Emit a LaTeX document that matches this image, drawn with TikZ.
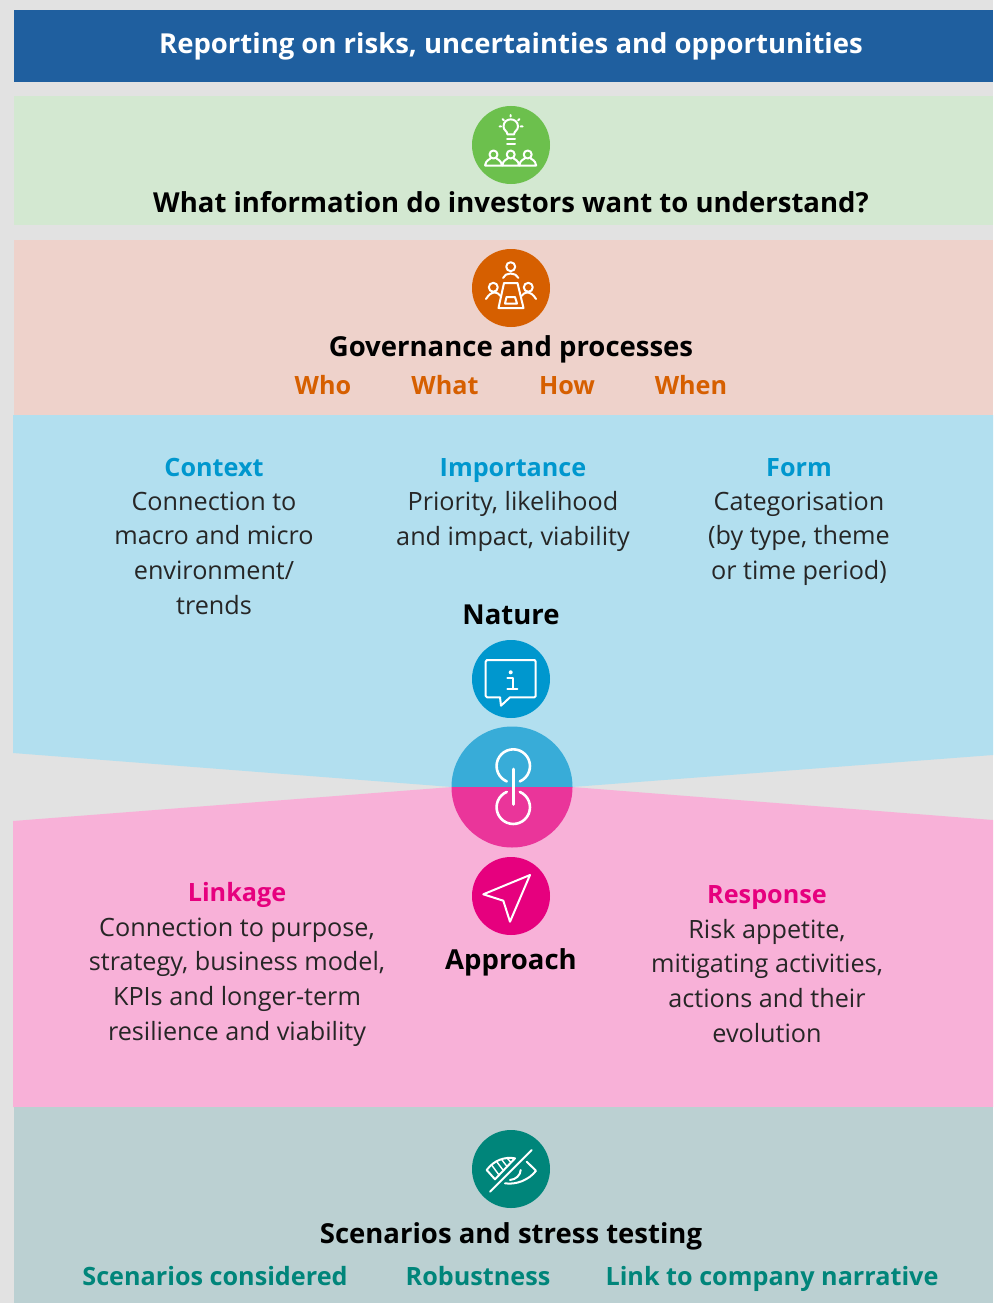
\documentclass[tikz,border=0pt]{standalone}
\usepackage{fontspec}
\setmainfont{Open Sans}
\usetikzlibrary{positioning}
\definecolor{pagegrey}{HTML}{E2E2E2}
\definecolor{headblue}{HTML}{1F5F9F}
\definecolor{palegreen}{HTML}{D3E8D1}
\definecolor{palesalmon}{HTML}{EED2CB}
\definecolor{paleblue}{HTML}{B2DFEF}
\definecolor{palepink}{HTML}{F8B1D8}
\definecolor{paleteal}{HTML}{BBD0D2}
\definecolor{iconGreen}{HTML}{6CC04D}
\definecolor{iconOrange}{HTML}{D65F00}
\definecolor{iconBlue}{HTML}{0097CE}
\definecolor{iconPink}{HTML}{E6007E}
\definecolor{iconTeal}{HTML}{00857A}
\definecolor{linkBlue}{HTML}{38ACD8}
\definecolor{linkPink}{HTML}{EA359A}
\begin{document}
\begin{tikzpicture}[x=1pt,y=-1pt,node distance=122pt]
\tikzstyle{disc}=[circle,minimum size=78pt,inner sep=0pt]
\tikzstyle{glyph}=[draw=white,line width=2pt,line cap=round,line join=round]
\tikzstyle{heading}=[font=\fontsize{27.5}{34}\selectfont\bfseries,text=black,text height=20pt,text depth=6pt]
\tikzstyle{topic}=[font=\fontsize{25.2}{34}\selectfont\bfseries,text height=20pt,text depth=6pt]
\tikzstyle{body}=[font=\fontsize{25.2}{34.8}\selectfont,align=center,text=black!85]
\useasboundingbox (0,0) rectangle (993,1303);
\fill[pagegrey] (0,0) rectangle (993,1303);
\fill[headblue] (14,10) rectangle (993,82);
\fill[palegreen] (14,96) rectangle (993,225);
\fill[palesalmon] (14,240) rectangle (993,415);
\fill[paleblue] (13,415) -- (993,415) -- (993,755) -- (572,787) -- (452,787) -- (13,753) -- cycle;
\fill[palepink] (13,821) -- (452,787) -- (572,787) -- (993,820) -- (993,1107) -- (13,1107) -- cycle;
\fill[paleteal] (14,1107) rectangle (993,1303);

\node[heading,text=white] (title) at (511,46.5) {Reporting on risks, uncertainties and opportunities};

\node[disc,fill=iconGreen] (investors) at (511,145) {};
\node[heading] (question) at (511,205.5) {What information do investors want to understand?};
\draw[glyph] (507.5,134.5) .. controls (507.5,131) and (503.5,130.5) .. (503.5,126.5) .. controls (503.5,117) and (518,117) .. (518,126.5) .. controls (518,130.5) and (514,131) .. (514,134.5) -- cycle;
\draw[glyph] (507,139) -- (515,139) (507,143.5) -- (515,143.5);
\draw[glyph] (499.5,126.5) -- (501,126.5) (520.5,126.5) -- (522.5,126.5) (502.5,119) -- (504,120.5) (519.5,119) -- (518,120.5) (510.7,115) -- (510.7,116.5);
\foreach \px in {493.5,510.7,527.7}
  \draw[glyph] (\px,154.5) circle[radius=4pt] (\px-8.5,165.5) .. controls (\px-7.5,160) and (\px-4,159.5) .. (\px-3,158.5) (\px+3,158.5) .. controls (\px+4,159.5) and (\px+7.5,160) .. (\px+8.5,165.5) -- (\px-8.5,165.5);

\node[disc,fill=iconOrange] (governance) at (511,288) {};
\node[heading] (govtitle) at (511,349.5) {Governance and processes};
\draw[glyph] (510.7,266.7) circle[radius=4.5pt] (503,278) .. controls (505,272) and (516,272) .. (518.5,278);
\draw[glyph] (504,283) -- (517.5,283) -- (523.5,308) -- (498.5,308) -- cycle;
\draw[glyph] (506.5,297) -- (515,297) -- (517,303.5) -- (505,303.5) -- cycle;
\draw[glyph] (493.3,287.3) circle[radius=4.5pt] (486,299) .. controls (489,294) and (492,292.5) .. (495,292.5) .. controls (497,292.5) and (499,294) .. (500.5,296);
\draw[glyph] (528.3,287.3) circle[radius=4.5pt] (536,299) .. controls (533,294) and (530,292.5) .. (527,292.5) .. controls (525,292.5) and (523,294) .. (521.5,296);
\node[topic,text=iconOrange] (who) at (323,387.5) {Who};
\node[topic,text=iconOrange,right of=who] (what) {What};
\node[topic,text=iconOrange,right of=what] (how) {How};
\node[topic,text=iconOrange,right of=how,xshift=2pt] (when) {When};

\node[topic,text=iconBlue] (context) at (214,469.5) {Context};
\node[body,anchor=north] (contextbody) at (214,488) {Connection to\\macro and micro\\environment/\\trends};
\node[topic,text=iconBlue] (importance) at (513,469.5) {Importance};
\node[body,anchor=north] (importancebody) at (513,488) {Priority, likelihood\\and impact, viability};
\node[topic,text=iconBlue] (form) at (799,469.5) {Form};
\node[body,anchor=north] (formbody) at (799,488) {Categorisation\\(by type, theme\\or time period)};
\node[heading] (nature) at (511,617) {Nature};
\node[disc,fill=iconBlue] (info) at (511,679) {};
\draw[glyph] (487,660) -- (534.5,660) .. controls (535.5,660) and (535.7,660.5) .. (535.7,661.5) -- (535.7,696) .. controls (535.7,697) and (535.5,697.3) .. (534.5,697.3) -- (510,697.3) -- (501,705.7) -- (500,697.3) -- (487,697.3) .. controls (486,697.3) and (485.7,697) .. (485.7,696) -- (485.7,661.5) .. controls (485.7,660.5) and (486,660) .. (487,660) -- cycle;
\fill[white] (510.7,672.3) circle[radius=2pt];
\draw[glyph] (507.3,677.7) -- (513.3,677.7) -- (513.3,689) (507.3,689) -- (517.3,689);

\fill[linkBlue] (451.5,787) arc[start angle=180,end angle=0,radius=60.5pt] -- cycle;
\fill[linkPink] (451.5,787) arc[start angle=180,end angle=360,radius=60.5pt] -- cycle;
\node[circle,minimum size=121pt,inner sep=0pt] (link) at (512,787) {};
\draw[white,line width=2.6pt,line cap=round] (519.8,781.4) arc[start angle=-67,end angle=247,radius=16.7pt];
\draw[white,line width=2.6pt,line cap=round] (519.8,791.9) arc[start angle=67,end angle=-247,radius=16.7pt];
\draw[white,line width=2.6pt,line cap=round] (513.3,769) -- (513.3,804.5);

\node[disc,fill=iconPink] (send) at (511,896) {};
\draw[glyph] (530,875) -- (483.3,894.3) -- (503.3,900.7) -- (510,921.7) -- cycle;
\node[heading] (approach) at (511,962.5) {Approach};
\node[topic,text=iconPink] (linkage) at (237,894.5) {Linkage};
\node[body,anchor=north] (linkagebody) at (237,914) {Connection to purpose,\\strategy, business model,\\KPIs and longer-term\\resilience and viability};
\node[topic,text=iconPink] (response) at (767,896.5) {Response};
\node[body,anchor=north] (responsebody) at (767,915.5) {Risk appetite,\\mitigating activities,\\actions and their\\evolution};

\node[disc,fill=iconTeal] (stress) at (511,1169) {};
\draw[glyph] (531.7,1150) -- (490,1191.7);
\draw[glyph] (486.7,1170) .. controls (494,1160) and (505,1156.5) .. (515,1158.3) -- (495,1179.3) -- cycle;
\draw[glyph,line width=1.4pt] (492,1165.5) -- (499,1175) (497,1162) -- (503,1170) (502,1160) -- (507,1166.5) (507.5,1158.5) -- (511,1162.5);
\draw[glyph] (526.7,1161.7) -- (536,1170.7) .. controls (529,1180) and (516,1185) .. (505,1183.3);
\draw[glyph] (520.7,1170) .. controls (520.5,1175) and (516,1179.5) .. (510,1180);
\node[heading] (stresstitle) at (511,1236.5) {Scenarios and stress testing};
\node[topic,text=iconTeal] (scenarios) at (215,1278.5) {Scenarios considered};
\node[topic,text=iconTeal] (robustness) at (478,1278.5) {Robustness};
\node[topic,text=iconTeal] (narrative) at (772,1278.5) {Link to company narrative};
\end{tikzpicture}
\end{document}
